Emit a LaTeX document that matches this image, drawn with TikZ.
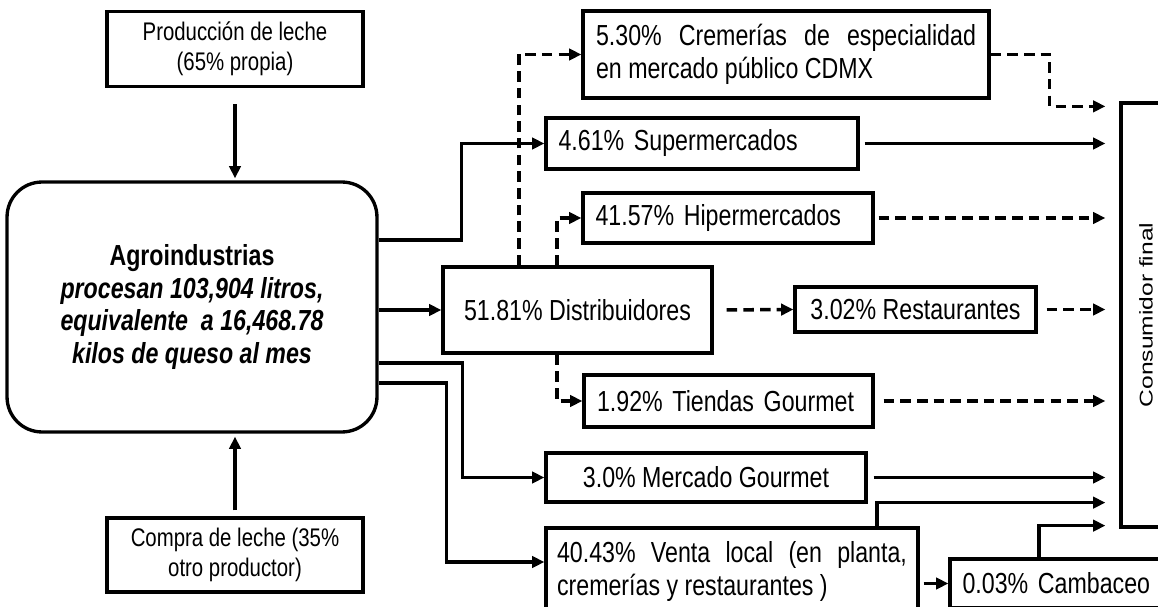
\documentclass[tikz,border=0pt]{standalone}
\usepackage{fontspec}
\setmainfont{Liberation Sans}[FakeStretch=0.8]
\newfontfamily\plainsans{Liberation Sans}
\usetikzlibrary{arrows.meta}

\begin{document}
\begin{tikzpicture}[
	  x=0.02cm, y=-0.02cm,
	  source/.style={
	  	rectangle,
	  	draw,
	  	line width=1.9pt,
	  	minimum width=5.12cm,
	  	minimum height=1.5cm,
	  	align=center,
	  	font=\fontsize{14.5}{17}\selectfont
	  },
	  industry/.style={
		  rectangle,
		  draw,
		  line width=1.9pt,
		  rounded corners=0.7cm,
		  minimum width=7.4cm,
		  minimum height=5cm,
		  align=center,
		  font=\fontsize{16.5}{18.7}\selectfont\bfseries
	  },
	  channel/.style={
		  rectangle,
		  draw,
		  line width=1.9pt,
		  inner xsep=0.22cm,
		  inner ysep=0pt,
		  font=\fontsize{16.5}{18.5}\selectfont
	  },
	  consumer/.style={
		  rectangle,
		  draw,
		  line width=1.9pt,
		  minimum width=1cm,
		  minimum height=8.48cm,
		  font=\plainsans\fontsize{14}{16}\selectfont
	  },
	  flow/.style={line width=2pt, -{Triangle[length=7pt,width=6.5pt]}},
	  dflow/.style={flow, dash pattern=on 6pt off 3.5pt}]
	\useasboundingbox (0,0) rectangle (1158,607);
	\clip (0,0) rectangle (1158,607);
	% Supply
	\node[source] (prod) at (235,49) {Producción de leche\\(65\% propia)};
	\node[source, minimum height=1.48cm] (compra) at (235,555) {Compra de leche (35\%\\otro productor)};
	\node[industry] (agro) at (192,307) {Agroindustrias\\
		\textit{procesan 103,904 litros,}\\
		\textit{equivalente~~a 16,468.78}\\
		\textit{kilos de queso al mes}};
	% Channels
	\node[channel, minimum width=8.12cm, minimum height=1.74cm, text width=7.6cm, align=justify] (crem) at (786,54.5)
		{5.30\% Cremerías de especialidad\linebreak en mercado público CDMX};
	\node[channel, minimum width=6.24cm, minimum height=1.02cm, text width=5.74cm, align=left] (super) at (702,143.5) {4.61\% Supermercados};
	\node[channel, minimum width=5.8cm, minimum height=1cm, text width=5.3cm, align=left] (hiper) at (728,218) {41.57\% Hipermercados};
	\node[channel, minimum width=5.38cm, minimum height=1.72cm] (distr) at (577.5,310) {51.81\% Distribuidores};
	\node[channel, minimum width=4.82cm, minimum height=0.9cm] (rest) at (915.5,309.5) {3.02\% Restaurantes};
	\node[channel, minimum width=5.78cm, minimum height=1.04cm, text width=5.26cm, align=left] (tiendas) at (728.5,401) {1.92\% Tiendas Gourmet};
	\node[channel, minimum width=6.4cm, minimum height=0.98cm] (merc) at (706,477.5) {3.0\% Mercado Gourmet};
	\node[channel, minimum width=7.44cm, minimum height=1.74cm, text width=7cm, align=justify] (venta) at (732,571.5)
		{40.43\% Venta local (en planta,\linebreak cremerías y restaurantes )};
	\node[channel, minimum width=4.3cm, minimum height=0.98cm, text width=3.8cm, align=left] (camb) at (1057.5,583.5) {0.03\% Cambaceo};
	\node[consumer] (cons) at (1146,315) {\rotatebox{90}{\scalebox{1}[0.75]{Consumidor final}}};
	% Milk in
	\draw[flow, shorten <=0.32cm, shorten >=0.04cm] (prod.south) -- (prod.south |- agro.north);
	\draw[flow, shorten <=0.12cm, shorten >=0.06cm] (compra.north) -- (compra.north |- agro.south);
	% From the plant
	\draw[flow] ([yshift=1.34cm]agro.east) -- ++(83,0) |- (super.west);
	\draw[flow] (agro.east |- distr.west) -- (distr.west);
	\draw[flow] ([yshift=-1.12cm]agro.east) -- ++(84,0) |- (merc.west);
	\draw[flow] ([yshift=-1.52cm]agro.east) -- ++(68,0) |- ([yshift=0.19cm]venta.west);
	% Distributors
	\draw[dflow] ([xshift=-1.17cm]distr.north) |- (crem.west);
	\draw[dflow] ([xshift=-0.41cm]distr.north) |- (hiper.west);
	\draw[dflow] ([xshift=-0.41cm]distr.south) |- (tiendas.west);
	\draw[dflow, shorten <=0.26cm] (distr.east) -- (rest.west);
	\draw[flow, shorten <=0.08cm] (camb.west -| venta.east) -- (camb.west);
	% To the consumer
	\draw[dflow, shorten >=0.28cm] (crem.east) -- ++(59,0) |- ([yshift=-0.1cm]cons.north west);
	\draw[flow, shorten <=0.1cm, shorten >=0.28cm] (super.east) -- (super.east -| cons.west);
	\draw[dflow, shorten <=0.08cm, shorten >=0.28cm] (hiper.east) -- (hiper.east -| cons.west);
	\draw[dflow, shorten <=0.18cm, shorten >=0.28cm] (rest.east) -- (rest.east -| cons.west);
	\draw[dflow, shorten <=0.18cm, shorten >=0.28cm] (tiendas.east) -- (tiendas.east -| cons.west);
	\draw[flow, shorten <=0.12cm, shorten >=0.28cm] (merc.east) -- (merc.east -| cons.west);
	\draw[flow, shorten >=0.28cm] ([xshift=2.9cm]venta.north) |- ([yshift=0.52cm]cons.south west);
	\draw[flow, shorten >=0.28cm] ([xshift=-0.37cm]camb.north) |- ([yshift=0.06cm]cons.south west);
\end{tikzpicture}
\end{document}
